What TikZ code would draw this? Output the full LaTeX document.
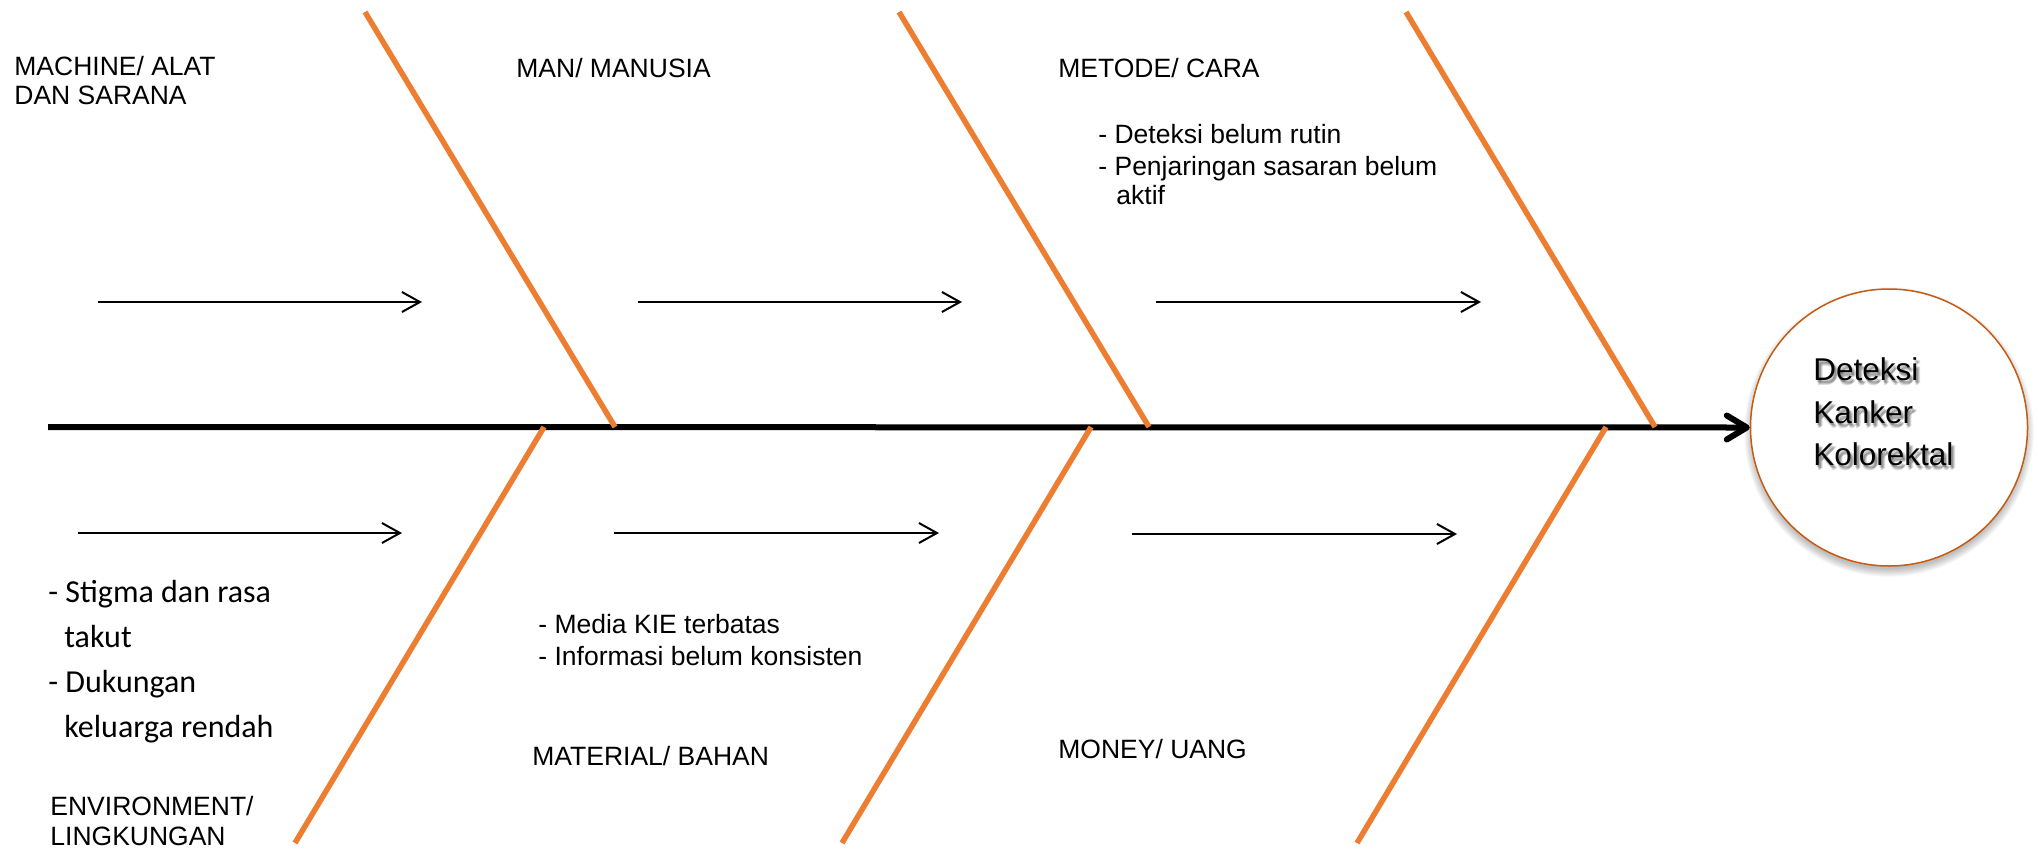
\documentclass[tikz,border=0pt]{standalone}
\usepackage{fontspec}
\setmainfont{Liberation Sans}
\newfontfamily\notefont{Carlito}
\usetikzlibrary{arrows.meta}
\definecolor{bonecol}{HTML}{ED7D31}
\definecolor{rimcol}{HTML}{C55A11}

% text with a soft grey shadow set beneath it
\newcommand\shadetext[1]{\leavevmode
  \rlap{\pgfsetfillopacity{0.13}%
    \rlap{\kern0.5pt\raisebox{-1pt}{#1}}%
    \rlap{\kern1pt\raisebox{-1.5pt}{#1}}%
    \rlap{\kern1.5pt\raisebox{-2pt}{#1}}%
    \rlap{\kern1pt\raisebox{-2.5pt}{#1}}%
    \rlap{\kern2pt\raisebox{-1.5pt}{#1}}%
    \pgfsetfillopacity{1}}#1}

\begin{document}
\begin{tikzpicture}[x=0.5pt,y=-0.5pt,
  spine/.style={line width=3pt,
    -{Straight Barb[length=10pt,width=12pt,line cap=round,line join=round]}},
  bone/.style={draw=bonecol, line width=2.75pt},
  cause/.style={line width=1pt, -{Straight Barb[length=9pt,width=10pt]}},
  lbl/.style={anchor=base west, inner sep=0pt, font=\fontsize{13.25pt}{15pt}\selectfont},
  note/.style={anchor=base west, inner sep=0pt, font=\notefont\fontsize{16pt}{18pt}\selectfont},
  goaltext/.style={anchor=base west, inner sep=0pt, font=\fontsize{15.75pt}{18pt}\selectfont}
]
\useasboundingbox (0,0) rectangle (2038,851);

% soft shadow under the effect circle
\foreach \i in {0,...,7}
  \fill[black, opacity=0.035] (1889,432) circle[radius=68.5pt+\i*0.55pt];

% effect (head of the fish)
\node[circle, draw=rimcol, line width=0.75pt, fill=white,
      minimum size=138.5pt, inner sep=0pt] (goal) at (1889,427.5) {};

% spine
\coordinate (tail) at (48,427);
\draw[spine] (tail) -- (goal.west);

% upper bones
\coordinate (u1a) at (365,12);  \coordinate (u1b) at (615,427);
\coordinate (u2a) at (899,12);  \coordinate (u2b) at (1149,427);
\coordinate (u3a) at (1406,12); \coordinate (u3b) at (1655,427);
\draw[bone] (u1a) -- (u1b);
\draw[bone] (u2a) -- (u2b);
\draw[bone] (u3a) -- (u3b);

% lower bones
\coordinate (l1a) at (544,427);  \coordinate (l1b) at (295,843);
\coordinate (l2a) at (1091,427); \coordinate (l2b) at (842,843);
\coordinate (l3a) at (1606,427); \coordinate (l3b) at (1357,843);
\draw[bone] (l1a) -- (l1b);
\draw[bone] (l2a) -- (l2b);
\draw[bone] (l3a) -- (l3b);

% cause arrows
\coordinate (c1a) at (98,302);   \coordinate (c1b) at (422,302);
\coordinate (c2a) at (638,302);  \coordinate (c2b) at (962,302);
\coordinate (c3a) at (1156,302); \coordinate (c3b) at (1481,302);
\coordinate (c4a) at (78,533);   \coordinate (c4b) at (402,533);
\coordinate (c5a) at (614,533);  \coordinate (c5b) at (939,533);
\coordinate (c6a) at (1132,534); \coordinate (c6b) at (1457,534);
\draw[cause] (c1a) -- (c1b);
\draw[cause] (c2a) -- (c2b);
\draw[cause] (c3a) -- (c3b);
\draw[cause] (c4a) -- (c4b);
\draw[cause] (c5a) -- (c5b);
\draw[cause] (c6a) -- (c6b);

% category labels
\node[lbl] (machine1) at (14,75)  {MACHINE/ ALAT};
\node[lbl] (machine2) at (14,104) {DAN SARANA};
\node[lbl] (man)      at (516,77) {MAN/ MANUSIA};
\node[lbl] (metode)   at (1058,77) {METODE/ CARA};
\node[lbl] (material) at (532,765) {MATERIAL/ BAHAN};
\node[lbl] (money)    at (1058,758) {MONEY/ UANG};
\node[lbl] (env1)     at (50,815) {ENVIRONMENT/};
\node[lbl] (env2)     at (50,845) {LINGKUNGAN};

% causes under METODE
\node[lbl] (met1)  at (1098,143) {- Deteksi belum rutin};
\node[lbl] (met2)  at (1098,175) {- Penjaringan sasaran belum};
\node[lbl] (met2b) at (1116,204) {aktif};

% causes under MATERIAL
\node[lbl] (mat1) at (538,633) {- Media KIE terbatas};
\node[lbl] (mat2) at (538,665) {- Informasi belum konsisten};

% causes under ENVIRONMENT
\node[note] (env1a) at (48,602) {- Stigma dan rasa};
\node[note] (env1b) at (64,647) {takut};
\node[note] (env2a) at (48,692) {- Dukungan};
\node[note] (env2b) at (64,737) {keluarga rendah};

% effect text
\node[goaltext] (goal1) at (1813,380) {\shadetext{Deteksi}};
\node[goaltext] (goal2) at (1813,423) {\shadetext{Kanker}};
\node[goaltext] (goal3) at (1813,465) {\shadetext{Kolorektal}};
\end{tikzpicture}
\end{document}
